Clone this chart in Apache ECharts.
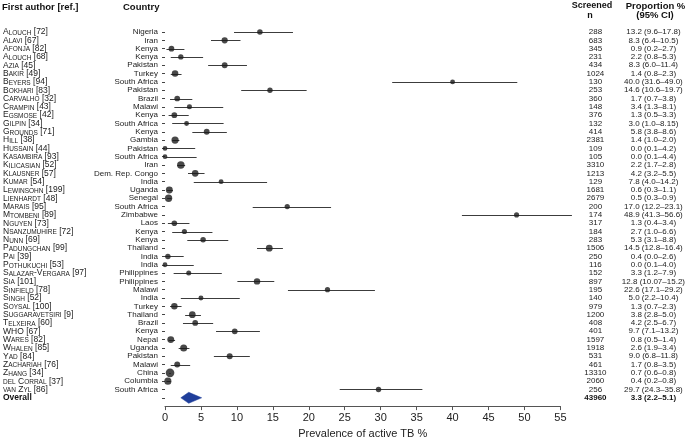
<!DOCTYPE html>
<html><head><meta charset="utf-8">
<script src="https://cdn.jsdelivr.net/npm/echarts@6/dist/echarts.min.js"></script>
<style>html,body{margin:0;padding:0;background:#fff}#c{width:688px;height:444px}</style>
</head><body><div id="c"></div>
<script>
const authors = ['Alouch [72]','Alavi [67]','Afonja [82]','Alouch [68]','Azia [45]','Bakir [49]','Beyers [94]','Bokhari [83]','Carvalho [32]','Crampin [43]','Egsmose [42]','Gilpin [34]','Grounds [71]','Hill [38]','Hussain [44]','Kasambira [93]','Kilicasian [52]','Klausner [57]','Kumar [54]','Lewinsohn [199]','Lienhardt [48]','Marais [95]','Mtombeni [89]','Nguyen [73]','Nsanzumuhire [72]','Nunn [69]','Padungchan [99]','Pai [39]','Pothukuchi [53]','Salazar-Vergara [97]','Sia [101]','Sinfield [78]','Singh [52]','Soysal [100]','Suggaravetsiri [9]','Telxeira [60]','WHO [67]','Wares [82]','Whalen [85]','Yad [84]','Zachariah [76]','Zhang [34]','del Corral [37]','van Zyl [86]'];
const countries = ['Nigeria','Iran','Kenya','Kenya','Pakistan','Turkey','South Africa','Pakistan','Brazil','Malawi','Kenya','South Africa','Kenya','Gambia','Pakistan','South Africa','Iran','Dem. Rep. Congo','India','Uganda','Senegal','South Africa','Zimbabwe','Laos','Kenya','Kenya','Thailand','India','India','Philippines','Philippines','Malawi','India','Turkey','Thailand','Brazil','Kenya','Nepal','Uganda','Pakistan','Malawi','China','Columbia','South Africa'];
const screened = [288,683,345,231,434,1024,130,253,360,148,376,132,414,2381,109,105,3310,1213,129,1681,2679,200,174,317,184,283,1506,250,116,152,897,195,140,979,1200,408,401,1597,1918,531,461,13310,2060,256];
const estimate = [13.2,8.3,0.9,2.2,8.3,1.4,40.0,14.6,1.7,3.4,1.3,3.0,5.8,1.4,0.0,0.0,2.2,4.2,7.8,0.6,0.5,17.0,48.9,1.3,2.7,5.3,14.5,0.4,0.0,3.3,12.8,22.6,5.0,1.3,3.8,4.2,9.7,0.8,2.6,9.0,1.7,0.7,0.4,29.7];
const lower = [9.6,6.4,0.2,0.8,6.0,0.8,31.6,10.6,0.7,1.3,0.5,1.0,3.8,1.0,0.1,0.1,1.7,3.2,4.0,0.3,0.3,12.2,41.3,0.4,1.0,3.1,12.8,0.0,0.1,1.2,10.07,17.1,2.2,0.7,2.8,2.5,7.1,0.5,1.9,6.8,0.8,0.6,0.2,24.3];
const upper = [17.8,10.5,2.7,5.3,11.4,2.3,49.0,19.7,3.8,8.1,3.3,8.15,8.6,2.0,4.2,4.4,2.8,5.5,14.2,1.1,0.9,23.1,56.6,3.4,6.6,8.8,16.4,2.6,4.0,7.9,15.2,29.2,10.4,2.3,5.0,6.7,13.2,1.4,3.4,11.8,3.5,0.8,0.8,35.8];
const overallLabel = 'Overall';
const overallN = 43960;
const overallEst = 3.3, overallLo = 2.2, overallHi = 5.1;
const xTicks = {min: 0, max: 55, interval: 5};
const xTitle = 'Prevalence of active TB %';

const FONT = "'Liberation Sans', Arial, sans-serif";
const nStudies = authors.length;
const overallIdx = nStudies;
const nCats = nStudies + 2; // studies + overall + empty bottom slot
const cats = Array.from({length: nCats}, (_, i) => String(i));

const fmt = v => Math.abs(v * 10 - Math.round(v * 10)) < 1e-9 ? v.toFixed(1) : String(v);
const ciText = i => fmt(estimate[i]) + ' (' + fmt(lower[i]) + '–' + fmt(upper[i]) + ')';
const overallCI = fmt(overallEst) + ' (' + fmt(overallLo) + '–' + fmt(overallHi) + ')';

function smallCaps(name) {
  let out = '', cur = null, buf = '';
  const flush = () => { if (buf) out += '{' + cur + '|' + buf + '}'; buf = ''; };
  for (const ch of name) {
    const cls = (ch >= 'a' && ch <= 'z') ? 's' : 'c';
    if (cls !== cur) { flush(); cur = cls; }
    buf += cls === 's' ? ch.toUpperCase() : ch;
  }
  flush();
  return out;
}

const chart = echarts.init(document.getElementById('c'), null, {renderer: 'canvas'});
const baseY = {
  type: 'category', data: cats, inverse: true, boundaryGap: false, gridIndex: 0,
  axisLine: {show: false}, axisTick: {show: false}, splitLine: {show: false}
};
const option = {
  animation: false,
  backgroundColor: '#fff',
  textStyle: {fontFamily: FONT},
  grid: {left: 164, right: 127, top: 32, bottom: 34, containLabel: false},
  xAxis: {
    type: 'value', min: xTicks.min, max: xTicks.max, interval: xTicks.interval,
    name: xTitle, nameLocation: 'middle', nameGap: 21,
    nameTextStyle: {fontSize: 11, color: '#222', fontFamily: FONT},
    axisLine: {show: true, lineStyle: {color: '#555', width: 1}},
    axisTick: {show: true, inside: false, length: 4, lineStyle: {color: '#555'}},
    axisLabel: {fontSize: 11, color: '#222', margin: 6, fontFamily: FONT},
    splitLine: {show: false}
  },
  yAxis: [
    Object.assign({}, baseY, {
      axisTick: {show: true, length: 3, interval: (idx) => idx <= overallIdx, lineStyle: {color: '#444'}},
      axisLabel: {interval: 0, margin: 7, fontSize: 8, color: '#222', fontFamily: FONT,
        formatter: (v, i) => i < nStudies ? countries[i] : ''}
    }),
    Object.assign({}, baseY, {
      position: 'left', offset: 162,
      axisLabel: {interval: 0, margin: 0, align: 'left', color: '#222', fontFamily: FONT,
        formatter: (v, i) => i < nStudies ? smallCaps(authors[i]) : (i === overallIdx ? '{b|' + overallLabel + '}' : ''),
        rich: {
          c: {fontSize: 8.5, fontFamily: FONT, color: '#222', verticalAlign: 'bottom'},
          s: {fontSize: 6.5, fontFamily: FONT, color: '#222', verticalAlign: 'bottom'},
          b: {fontSize: 8.5, fontFamily: FONT, color: '#111', fontWeight: 'bold'}
        }}
    }),
    Object.assign({}, baseY, {
      position: 'right', offset: 35,
      axisLabel: {interval: 0, margin: 0, align: 'center', fontSize: 8, color: '#222', fontFamily: FONT,
        formatter: (v, i) => i < nStudies ? String(screened[i]) : (i === overallIdx ? '{b|' + overallN + '}' : ''),
        rich: {b: {fontSize: 8, fontWeight: 'bold', color: '#111', fontFamily: FONT}}}
    }),
    Object.assign({}, baseY, {
      position: 'right', offset: 93,
      axisLabel: {interval: 0, margin: 0, align: 'center', fontSize: 8, color: '#222', fontFamily: FONT,
        formatter: (v, i) => i < nStudies ? ciText(i) : (i === overallIdx ? '{b|' + overallCI + '}' : ''),
        rich: {b: {fontSize: 8, fontWeight: 'bold', color: '#111', fontFamily: FONT}}}
    })
  ],
  graphic: [
    {type: 'text', left: 2, top: 2, style: {text: 'First author [ref.]', font: 'bold 9.5px ' + FONT, fill: '#111'}},
    {type: 'text', left: 123, top: 2, style: {text: 'Country', font: 'bold 9.5px ' + FONT, fill: '#111'}},
    {type: 'text', x: 592, y: 6, style: {text: 'Screened', font: 'bold 9px ' + FONT, fill: '#111', align: 'center', verticalAlign: 'middle'}},
    {type: 'text', x: 590, y: 15.5, style: {text: 'n', font: 'bold 9px ' + FONT, fill: '#111', align: 'center', verticalAlign: 'middle'}},
    {type: 'text', x: 655.5, y: 6, style: {text: 'Proportion %', font: 'bold 9.5px ' + FONT, fill: '#111', align: 'center', verticalAlign: 'middle'}},
    {type: 'text', x: 655, y: 15.5, style: {text: '(95% CI)', font: 'bold 9.5px ' + FONT, fill: '#111', align: 'center', verticalAlign: 'middle'}}
  ],
  series: [
    {
      type: 'custom', name: 'ci', xAxisIndex: 0, yAxisIndex: 0, clip: false,
      encode: {x: [0, 1], y: 2},
      data: lower.map((l, i) => [l, upper[i], i]),
      renderItem: (params, api) => {
        const a = api.coord([api.value(0), api.value(2)]);
        const b = api.coord([api.value(1), api.value(2)]);
        return {type: 'line', shape: {x1: a[0], y1: Math.round(a[1]) + 0.5, x2: b[0], y2: Math.round(b[1]) + 0.5},
          style: {stroke: '#3c3c3c', lineWidth: 1}};
      },
      z: 2
    },
    {
      type: 'scatter', name: 'estimate', xAxisIndex: 0, yAxisIndex: 0,
      data: estimate.map((v, i) => [v, i, screened[i]]),
      symbol: 'circle',
      symbolSize: (val) => 0.8 * Math.log(val[2]) + 1.0,
      itemStyle: {color: '#1a1a1a'},
      z: 3
    },
    {
      type: 'custom', name: 'overall', xAxisIndex: 0, yAxisIndex: 0, clip: false,
      encode: {x: [0, 1, 2], y: 3},
      data: [[overallLo, overallEst, overallHi, overallIdx]],
      renderItem: (params, api) => {
        const l = api.coord([api.value(0), api.value(3)]);
        const m = api.coord([api.value(1), api.value(3)]);
        const r = api.coord([api.value(2), api.value(3)]);
        const h = 5.5;
        return {type: 'polygon', shape: {points: [[l[0], l[1]], [m[0], m[1] - h], [r[0], r[1]], [m[0], m[1] + h]]},
          style: {fill: '#1f3e9a', stroke: '#1f3e9a', lineWidth: 0.5}};
      },
      z: 3
    }
  ]
};
chart.setOption(option);
</script>
</body></html>
